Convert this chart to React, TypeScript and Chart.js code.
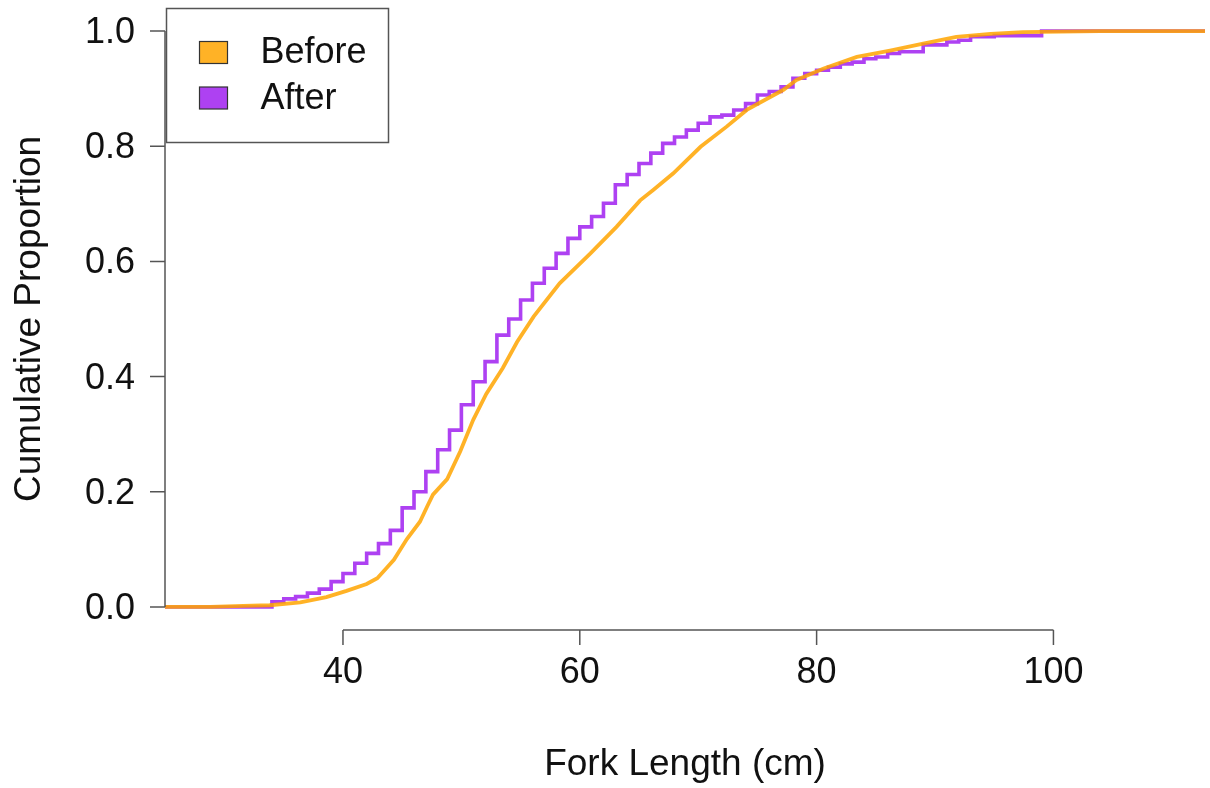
import React, { useEffect, useRef } from "react";
import { Chart, registerables } from "chart.js";

Chart.register(...registerables);

// ---- axis ranges and ticks ----
const xLimits = [24.97, 112.8];
const yLimits = [-0.04, 1.04];
const xTicks = [40, 60, 80, 100];
const xTickLabels = ["40", "60", "80", "100"];
const yTicks = [0, 0.2, 0.4, 0.6, 0.8, 1.0];
const yTickLabels = ["0.0", "0.2", "0.4", "0.6", "0.8", "1.0"];
const xTitle = "Fork Length (cm)";
const yTitle = "Cumulative Proportion";
const seriesNames = ["Before", "After"];

// ---- Before (orange): cumulative proportion ----
const beforeLength = [
  28.8, 31.6, 33.8, 36.4, 38.6, 40.3, 42.0, 42.9, 43.7, 44.3, 45.4, 46.5, 47.1, 47.6,
  48.8, 49.9, 51.0, 52.1, 53.5, 54.7, 56.1, 58.3, 60.9, 63.1, 65.1, 66.2, 67.9,
  70.2, 72.4, 74.1, 77.2, 78.3, 80.6, 83.4, 86.2, 89.0, 91.8, 94.7, 97.4, 103.9,
];
const beforeCum = [
  0, 0.002, 0.003, 0.008, 0.017, 0.028, 0.04, 0.05, 0.068, 0.082, 0.118, 0.148, 0.174, 0.195,
  0.222, 0.27, 0.325, 0.37, 0.415, 0.46, 0.504, 0.562, 0.614, 0.66, 0.706, 0.724, 0.753,
  0.799, 0.834, 0.863, 0.898, 0.915, 0.935, 0.955, 0.966, 0.978, 0.99, 0.995, 0.998, 1.0,
];

// ---- After (purple): ECDF jump points ----
const afterLength = [
  34, 35, 36, 37, 38, 39, 40, 41, 42, 43, 44, 45, 46, 47, 48, 49, 50, 51, 52, 53,
  54, 55, 56, 57, 58, 59, 60, 61, 62, 63, 64, 65, 66, 67, 68, 69, 70, 71, 72, 73,
  74, 75, 76, 77, 78, 79, 80, 81, 82, 83, 84, 85, 86, 87, 89, 91, 92, 93, 95, 99,
];
const afterCum = [
  0.009, 0.014, 0.018, 0.024, 0.031, 0.044, 0.058, 0.076, 0.093, 0.11, 0.133, 0.172,
  0.2, 0.235, 0.273, 0.307, 0.351, 0.391, 0.426, 0.472, 0.5, 0.533, 0.562, 0.588,
  0.614, 0.64, 0.66, 0.678, 0.701, 0.733, 0.751, 0.77, 0.788, 0.805, 0.816, 0.828,
  0.84, 0.851, 0.854, 0.863, 0.874, 0.889, 0.895, 0.903, 0.918, 0.926, 0.932, 0.937,
  0.943, 0.946, 0.952, 0.955, 0.961, 0.964, 0.976, 0.981, 0.984, 0.99, 0.992, 1.0,
];

const ORANGE = "rgba(255,165,0,0.85)";
const PURPLE = "rgba(160,32,240,0.85)";
const FAMILY = `"Liberation Sans", Arial, Helvetica, sans-serif`;

function drawText(ctx: any, text: string, x: number, y: number, align: string, size: number) {
  ctx.save();
  ctx.font = `${size}px ${FAMILY}`;
  ctx.textAlign = align;
  ctx.textBaseline = "middle";
  ctx.fillText(text, x, y);
  ctx.restore();
}

const rAxesPlugin = {
  id: "rAxes",
  afterDraw(chart: any) {
    const { ctx, chartArea } = chart;
    const xs = chart.scales.x;
    const ys = chart.scales.y;
    ctx.save();
    ctx.strokeStyle = "#555";
    ctx.lineWidth = 1.5;
    ctx.fillStyle = "#111";

    // y axis
    const left = chartArea.left;
    ctx.beginPath();
    ctx.moveTo(left, ys.getPixelForValue(yTicks[0]));
    ctx.lineTo(left, ys.getPixelForValue(yTicks[yTicks.length - 1]));
    yTicks.forEach((v) => {
      const py = ys.getPixelForValue(v);
      ctx.moveTo(left, py);
      ctx.lineTo(left - 15, py);
    });
    ctx.stroke();
    yTicks.forEach((v, i) => {
      drawText(ctx, yTickLabels[i], left - 30, ys.getPixelForValue(v) + 2, "right", 36);
    });

    // x axis
    const bottom = chartArea.bottom;
    ctx.beginPath();
    ctx.moveTo(xs.getPixelForValue(xTicks[0]), bottom);
    ctx.lineTo(xs.getPixelForValue(xTicks[xTicks.length - 1]), bottom);
    xTicks.forEach((v) => {
      const px = xs.getPixelForValue(v);
      ctx.moveTo(px, bottom);
      ctx.lineTo(px, bottom + 15);
    });
    ctx.stroke();
    xTicks.forEach((v, i) => {
      drawText(ctx, xTickLabels[i], xs.getPixelForValue(v), bottom + 43, "center", 36);
    });

    // axis titles
    const cx = (chartArea.left + chartArea.right) / 2;
    drawText(ctx, xTitle, cx, bottom + 135, "center", 37);
    ctx.save();
    const cy = (chartArea.top + chartArea.bottom) / 2;
    ctx.translate(30, cy);
    ctx.rotate(-Math.PI / 2);
    drawText(ctx, yTitle, 0, 0, "center", 37);
    ctx.restore();

    // legend box (top-left inset)
    const bx = chartArea.left + 1.5;
    const by = chartArea.top + 0.5;
    ctx.fillStyle = "#ffffff";
    ctx.fillRect(bx, by, 222, 134);
    ctx.strokeStyle = "#555";
    ctx.lineWidth = 1.5;
    ctx.strokeRect(bx, by, 222, 134);
    const colors = [ORANGE, PURPLE];
    seriesNames.forEach((name, i) => {
      const sy = by + 33 + i * 45.5;
      ctx.fillStyle = colors[i];
      ctx.fillRect(bx + 33, sy, 28, 22);
      ctx.strokeStyle = "#333";
      ctx.lineWidth = 1.2;
      ctx.strokeRect(bx + 33, sy, 28, 22);
      ctx.fillStyle = "#111";
      drawText(ctx, name, bx + 94, sy + 12, "left", 36);
    });
    ctx.restore();
  },
};

export default function App() {
  const canvasRef = useRef<HTMLCanvasElement | null>(null);

  useEffect(() => {
    const canvas = canvasRef.current;
    if (!canvas) return;
    const beforeData = [{ x: xLimits[0], y: 0 }]
      .concat(beforeLength.map((x, i) => ({ x, y: beforeCum[i] })))
      .concat([{ x: xLimits[1], y: 1 }]);
    const afterData = [{ x: xLimits[0], y: 0 }]
      .concat(afterLength.map((x, i) => ({ x, y: afterCum[i] })))
      .concat([{ x: xLimits[1], y: 1 }]);

    const chart = new Chart(canvas, {
      type: "line",
      data: {
        datasets: [
          {
            label: seriesNames[0],
            data: beforeData,
            borderColor: ORANGE,
            borderWidth: 3.8,
            pointRadius: 0,
            tension: 0,
            fill: false,
          },
          {
            label: seriesNames[1],
            data: afterData,
            borderColor: PURPLE,
            borderWidth: 3.6,
            pointRadius: 0,
            stepped: "before",
            fill: false,
          },
        ],
      },
      options: {
        responsive: false,
        animation: false,
        events: [],
        layout: { padding: { left: 165, right: 5, top: 8, bottom: 158 } },
        plugins: {
          legend: { display: false },
          tooltip: { enabled: false },
          title: { display: false },
        },
        scales: {
          x: { type: "linear", min: xLimits[0], max: xLimits[1], display: false },
          y: { type: "linear", min: yLimits[0], max: yLimits[1], display: false },
        },
      },
      plugins: [rAxesPlugin],
    });
    return () => chart.destroy();
  }, []);

  return (
    <div style={{ position: "absolute", left: 0, top: 0, width: 1210, height: 788, background: "#fff" }}>
      <canvas ref={canvasRef} width={1210} height={788} style={{ display: "block" }} />
    </div>
  );
}
